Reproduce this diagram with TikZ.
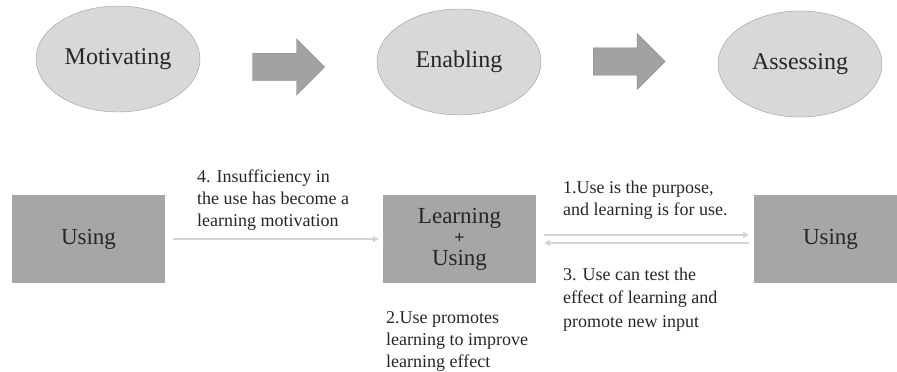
\documentclass[tikz,border=0pt]{standalone}
\usepackage{fontspec}
\setmainfont{Liberation Serif}
\usetikzlibrary{shapes.geometric, shapes.arrows, arrows.meta}

\definecolor{ellfill}{HTML}{D8D8D8}
\definecolor{elldraw}{HTML}{9C9C9C}
\definecolor{boxfill}{HTML}{A6A6A6}
\definecolor{bigarrow}{HTML}{A2A2A2}
\definecolor{thinline}{HTML}{D4D4D4}
\definecolor{txt}{HTML}{262626}

\tikzset{
	stage/.style = {ellipse, draw = elldraw, fill = ellfill, minimum width = 164pt, minimum height = 106pt, inner sep = 0pt, text = txt, font = \fontsize{24}{26}\selectfont},
	block/.style = {rectangle, fill = boxfill, minimum width = 153pt, minimum height = 88pt, inner sep = 0pt, text = txt, font = \fontsize{23}{26}\selectfont, align = center},
	flow/.style = {single arrow, draw = bigarrow!80!black, fill = bigarrow, minimum height = 72pt, inner sep = 13.5pt, single arrow head extend = 14.5pt, single arrow tip angle = 90, anchor = tail},
	link/.style = {draw = thinline, line width = 1.6pt, -{Triangle[length = 6pt, width = 6pt]}},
	note/.style = {anchor = base west, inner sep = 0pt, align = left, text = txt, font = \fontsize{18}{22}\selectfont}
}

\begin{document}
\begin{tikzpicture}[x = 1pt, y = -1pt]
	\useasboundingbox (0, 0) rectangle (897, 372);
	% top row
	\node[stage] (motiv) at (118, 59) {Motivating};
	\node[stage] (enab) at (459, 62) {Enabling};
	\node[stage] (assess) at (800, 64) {Assessing};
	\node[flow] (go1) at (252.5, 67) {};
	\node[flow] (go2) at (593, 61.5) {};
	% bottom row
	\node[block] (useL) at (88.5, 239) {Using};
	\node[block] (learn) at (459.5, 239) {};
	\node[text = txt, font = \fontsize{23}{26}\selectfont, inner sep = 0pt] (lrn) at (459.5, 218) {Learning};
	\node[text = txt, font = \fontsize{18}{18}\selectfont\bfseries, inner sep = 0pt] (plus) at (459.5, 238) {+};
	\node[text = txt, font = \fontsize{23}{26}\selectfont, inner sep = 0pt] (usg) at (459.5, 260) {Using};
	\node[block] (useR) at (830.5, 239) {Using};
	% connectors
	\coordinate (a4s) at (173, 239);
	\coordinate (a4e) at (379, 239);
	\draw[link] (a4s) -- (a4e);
	\coordinate (a1s) at (544, 235);
	\coordinate (a1e) at (749, 235);
	\draw[link] (a1s) -- (a1e);
	\coordinate (a3s) at (749, 243);
	\coordinate (a3e) at (544, 243);
	\draw[link] (a3s) -- (a3e);
	% labels (anchored at the last line)
	\node[note] (n4) at (197, 226) {4. Insufficiency in\\the use has become a\\learning motivation};
	\node[note] (n1) at (563, 215) {1.Use is the purpose,\\and learning is for use.};
	\node[note, font = \fontsize{18}{23.5}\selectfont] (n3) at (563, 327) {3. Use can test the\\effect of learning and\\promote new input};
	\node[note] (n2) at (386, 367) {2.Use promotes\\learning to improve\\learning effect};
\end{tikzpicture}
\end{document}
